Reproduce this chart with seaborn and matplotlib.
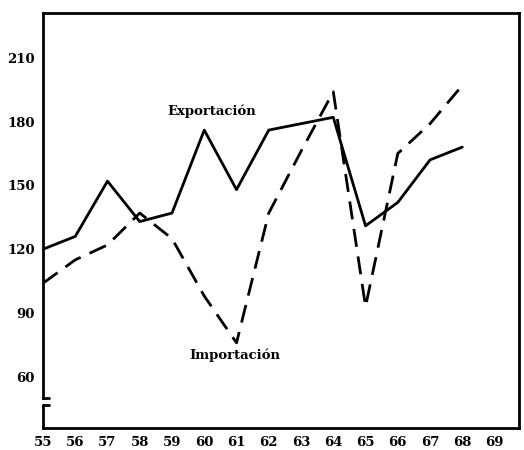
import pandas as pd
import matplotlib
matplotlib.use("Agg")
import matplotlib.pyplot as plt
import seaborn as sns

# datos (anos 1955-1968)
years = [55, 56, 57, 58, 59, 60, 61, 62, 63, 64, 65, 66, 67, 68]
exportacion = [120, 126, 152, 133, 137, 176, 148, 176, 179, 182, 131, 142, 162, 168]
importacion = [104, 115, 122, 137, 125, 98, 76, 137, 166, 194, 93, 165, 179, 197]
y_ticks = [60, 90, 120, 150, 180, 210]
x_ticks = [55, 56, 57, 58, 59, 60, 61, 62, 63, 64, 65, 66, 67, 68, 69]

sns.set_style("white")
plt.rcParams['font.family'] = ['DejaVu Serif']

df = pd.DataFrame({
    'year': years * 2,
    'valor': exportacion + importacion,
    'serie': ['Exportación'] * len(years) + ['Importación'] * len(years),
})

fig = plt.figure(figsize=(5.24, 4.5), dpi=100)
ax = fig.add_axes([0.082, 0.049, 0.908, 0.922])

sns.lineplot(data=df[df['serie'] == 'Exportación'], x='year', y='valor',
             color='black', linewidth=2.0, ax=ax)
sns.lineplot(data=df[df['serie'] == 'Importación'], x='year', y='valor',
             color='black', linewidth=2.0, ax=ax, dashes=False)
ax.lines[1].set_dashes((6.5, 3.5))
ax.lines[1].set_dash_capstyle('butt')

ax.set_xlim(55, 69.75)
ax.set_ylim(36, 231)
ax.set_xticks(x_ticks)
ax.set_xticklabels([str(t) for t in x_ticks])
ax.set_yticks(y_ticks)
ax.set_yticklabels([str(t) for t in y_ticks])
ax.tick_params(length=0, labelsize=9.5, pad=6, labelcolor='black')
for lab in ax.get_xticklabels() + ax.get_yticklabels():
    lab.set_fontweight('bold')
ax.set_xlabel('')
ax.set_ylabel('')

for s in ['top', 'right', 'bottom', 'left']:
    ax.spines[s].set_visible(True)
    ax.spines[s].set_color('black')
    ax.spines[s].set_linewidth(2.0)

# eje cortado a la izquierda
ax.spines['left'].set_bounds(50, 231)
kw = dict(transform=ax.transAxes, color='black', linewidth=2.0, clip_on=False)
ax.plot([0, 0.012], [0.072, 0.072], **kw)
ax.plot([0, 0], [0, 0.055], **kw)
ax.plot([0, 0.012], [0.055, 0.055], **kw)

ax.text(58.85, 185, 'Exportación', fontsize=9.5, fontweight='bold',
        va='center', color='black')
ax.text(59.55, 70, 'Importación', fontsize=9.5, fontweight='bold',
        va='center', color='black')

fig.savefig('out.png', dpi=100)
